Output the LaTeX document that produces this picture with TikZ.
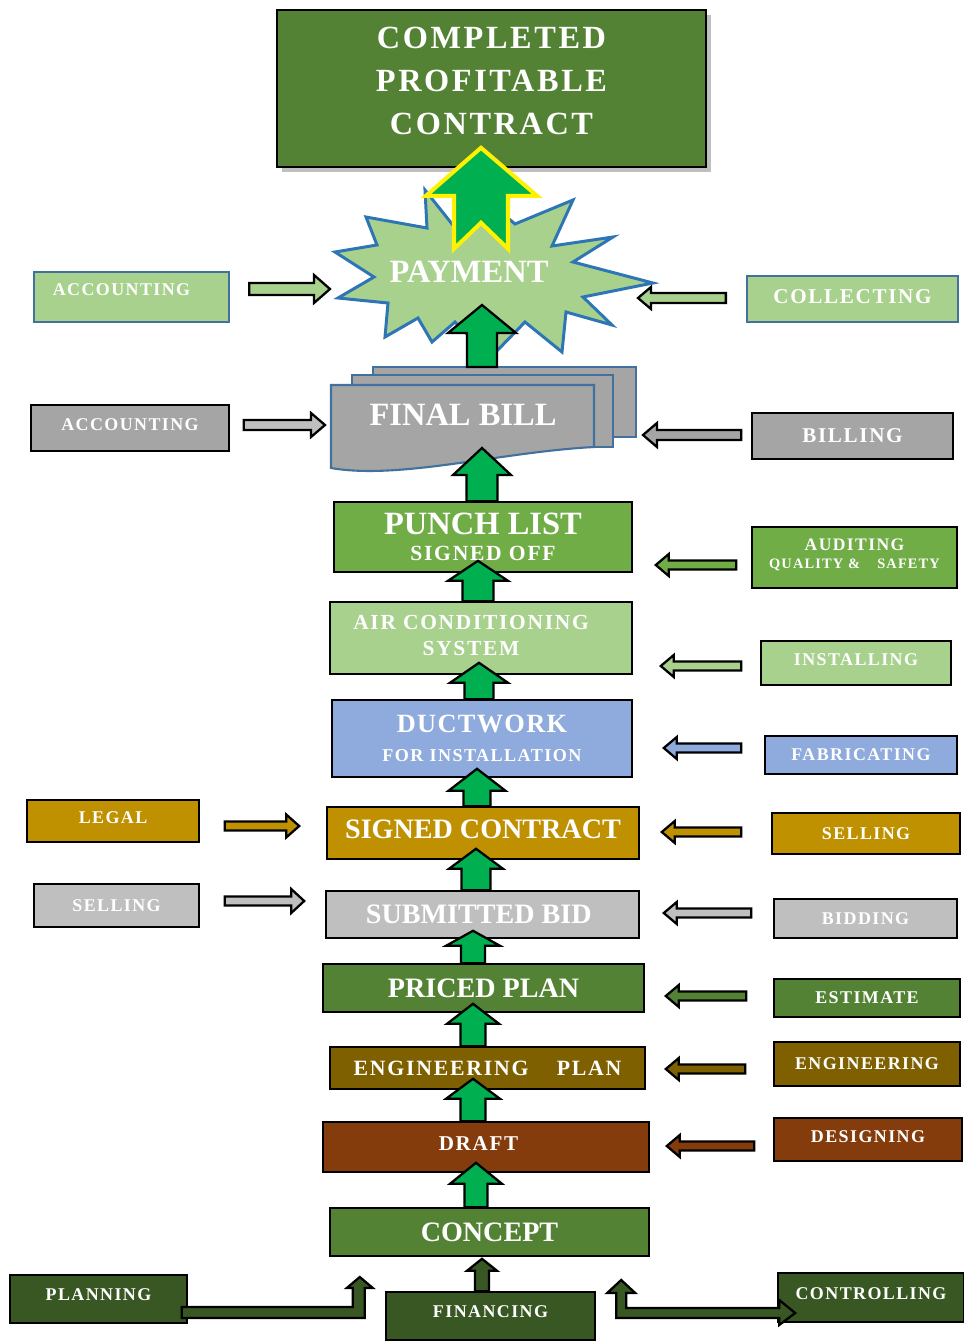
\documentclass[tikz,border=0pt]{standalone}
\usepackage{fontspec}
\setmainfont{Liberation Serif}
\newfontfamily\lsa[LetterSpace=8]{Liberation Serif}
\newfontfamily\lsb[LetterSpace=5]{Liberation Serif}
\usetikzlibrary{calc,shadows}

\definecolor{dkgreen}{HTML}{548235}
\definecolor{ltgreen}{HTML}{A9D18E}
\definecolor{mdgreen}{HTML}{70AD47}
\definecolor{arrgreen}{HTML}{00B050}
\definecolor{bordblue}{HTML}{41719C}
\definecolor{starblue}{HTML}{2E75B6}
\definecolor{midgray}{HTML}{A5A5A5}
\definecolor{ltgray}{HTML}{BFBFBF}
\definecolor{ductblue}{HTML}{8FAADC}
\definecolor{gold}{HTML}{BF9000}
\definecolor{olive}{HTML}{7F6000}
\definecolor{rust}{HTML}{843C0C}
\definecolor{forest}{HTML}{385723}

% block arrow: [style] {tail} {tip} {shaft half width} {head half width} {head length}
\newcommand{\blkarrow}[6][]{%
  \coordinate (ba) at (#2);
  \coordinate (bt) at (#3);
  \coordinate (bh) at ($(bt)!#6*0.02cm!(ba)$);
  \draw[blk,#1] ($(ba)!#4*0.02cm!90:(bh)$) -- ($(bh)!#4*0.02cm!90:(bt)$)
    -- ($(bh)!#5*0.02cm!90:(bt)$) -- (bt) -- ($(bh)!#5*0.02cm!-90:(bt)$)
    -- ($(bh)!#4*0.02cm!-90:(bt)$) -- ($(ba)!#4*0.02cm!-90:(bh)$) -- cycle;
}

\begin{document}
\begin{tikzpicture}[x=0.02cm, y=-0.02cm,
    pbox/.style={draw=black, line width=0.9pt, inner sep=0pt, text=white, align=center},
    bluebox/.style={draw=bordblue, line width=1.3pt},
    side/.style={pbox, font=\lsa\bfseries\fontsize{10.2}{12}\selectfont},
    main/.style={pbox, font=\bfseries\fontsize{16}{18}\selectfont},
    sz/.style 2 args={minimum width=#1*0.02cm, minimum height=#2*0.02cm},
    blk/.style={draw=black, line width=1.3pt, line join=miter, fill=arrgreen},
    sheet/.style={draw=bordblue, line width=1.2pt, fill=midgray}]
  \useasboundingbox (0,0) rectangle (964,1343);

  % Goal
  \node[pbox, fill=dkgreen, sz={429}{157}, text depth=9pt,
    drop shadow={shadow xshift=3pt, shadow yshift=-3pt, opacity=0.5},
    font=\lsa\bfseries\fontsize{18.4}{24.4}\selectfont] (top) at (491.5,88.5)
    {COMPLETED\\PROFITABLE\\CONTRACT};

  % Payment burst
  \draw[fill=ltgreen, draw=starblue, line width=1.7pt, line join=miter]
    (425,190) -- (452,224) -- (481,195) -- (515,224) -- (573,200) -- (552,246)
    -- (613,237) -- (573,262) -- (653,283) -- (583,297) -- (612,325) -- (566,312)
    -- (562,352) -- (525,322) -- (490,358) -- (455,322) -- (432,342) -- (418,318)
    -- (385,337) -- (388,303) -- (338,298) -- (374,277) -- (335,252) -- (377,245)
    -- (366,217) -- (427,228) -- cycle;
  \node[text=white, font=\bfseries\fontsize{18.5}{20}\selectfont] (pay) at (469,272) {PAYMENT};

  % Final bill stack
  \draw[sheet] (373,367) rectangle (636,437);
  \draw[sheet] (352,375) rectangle (613,447);
  \draw[sheet] (331,385) -- (594,385) -- (594,447) .. controls (500,452) and (400,480) .. (331,468) -- cycle;
  \node[text=white, font=\bfseries\fontsize{18.5}{20}\selectfont] (fb) at (463,415) {FINAL BILL};
  \coordinate (billtop) at (482,367);

  % Main steps
  \node[pbox, fill=mdgreen, sz={298}{70}, font=\lsa\bfseries\fontsize{12.3}{15}\selectfont] (punch) at (483,537)
    {{\rmfamily\fontsize{18.5}{20}\selectfont PUNCH LIST}\\SIGNED OFF};
  \node[pbox, fill=ltgreen, sz={302}{72}, text depth=3.4pt, font=\lsa\bfseries\fontsize{12.2}{14.7}\selectfont] (ac) at (481,638)
    {AIR CONDITIONING\hspace*{0.4cm}\\SYSTEM\hspace*{0.4cm}};
  \node[pbox, fill=ductblue, sz={300}{77}, font=\lsa\bfseries\fontsize{10.3}{16.8}\selectfont] (duct) at (482,738.5)
    {{\lsb\fontsize{15}{17}\selectfont DUCTWORK}\\FOR INSTALLATION};
  \node[main, fill=gold, sz={312}{52}, text depth=4.5pt] (signed) at (483,833) {SIGNED CONTRACT};
  \node[main, fill=ltgray, sz={313}{47}] (bid) at (482.5,914.5) {SUBMITTED BID\hspace*{0.15cm}};
  \node[main, fill=dkgreen, sz={321}{48}] (priced) at (483.5,988) {PRICED PLAN};
  \node[side, fill=olive, sz={315}{42}, font=\lsa\bfseries\fontsize{12.4}{14}\selectfont] (engplan) at (487.5,1068)
    {ENGINEERING\hspace{1.3em}PLAN};
  \node[side, fill=rust, sz={326}{50}, text depth=4.5pt, font=\lsa\bfseries\fontsize{12}{14}\selectfont] (draft) at (486,1147) {DRAFT\hspace*{0.3cm}};
  \node[main, fill=dkgreen, sz={319}{48}] (concept) at (489.5,1232) {CONCEPT};

  % Side activities
  \node[side, bluebox, fill=ltgreen, sz={195}{50}, text depth=8pt] (acc1) at (131.5,297) {ACCOUNTING\hspace*{0.4cm}};
  \node[side, bluebox, fill=ltgreen, sz={211}{46}, text depth=3.4pt, font=\lsa\bfseries\fontsize{12}{14}\selectfont] (coll) at (852.5,299) {COLLECTING};
  \node[side, fill=midgray, sz={198}{46}, text depth=3.4pt] (acc2) at (130,428) {ACCOUNTING};
  \node[side, fill=midgray, sz={201}{46}, font=\lsa\bfseries\fontsize{12}{14}\selectfont] (billing) at (852.5,436) {BILLING};
  \node[side, fill=mdgreen, sz={205}{61}, text depth=4pt, font=\lsa\bfseries\fontsize{8.2}{10.2}\selectfont] (audit) at (854.5,557.5)
    {{\fontsize{10}{12}\selectfont AUDITING}\\QUALITY \&\hspace{1.2em}SAFETY};
  \node[side, fill=ltgreen, sz={190}{44}, text depth=3.4pt] (install) at (856,663) {INSTALLING};
  \node[side, fill=ductblue, sz={192}{38}] (fabric) at (861,755) {FABRICATING};
  \node[side, fill=gold, sz={172}{42}, text depth=3.4pt] (legal) at (113,821) {LEGAL};
  \node[side, fill=gold, sz={188}{41}] (sell1) at (866,833.5) {SELLING};
  \node[side, fill=ltgray, sz={165}{43}] (sell2) at (116.5,905.5) {SELLING};
  \node[side, fill=ltgray, sz={183}{39}] (bidding) at (865.5,918.5) {BIDDING};
  \node[side, fill=dkgreen, sz={186}{38}] (estimate) at (867,998) {ESTIMATE};
  \node[side, fill=olive, sz={186}{44}] (eng) at (867,1064) {ENGINEERING};
  \node[side, fill=rust, sz={188}{43}, text depth=3pt] (design) at (868,1139.5) {DESIGNING};
  \node[side, fill=forest, sz={177}{48}, text depth=4.5pt] (plan) at (98.5,1299) {PLANNING};
  \node[side, fill=forest, sz={209}{48}, text depth=4.5pt] (fin) at (490.5,1316) {FINANCING};
  \node[side, fill=forest, sz={186}{49}, text depth=5pt] (ctrl) at (871,1297.5) {CONTROLLING};

  % Connection: up the chain
  \blkarrow{billtop}{$(pay)+(13,33)$}{15}{34}{28}
  \blkarrow{$(punch.north)+(-1,0)$}{$(fb)+(19,33)$}{15.5}{29}{27}
  \blkarrow{$(ac.north)+(-3,0)$}{$(punch.south)+(-5,-12)$}{15.5}{30}{20}
  \blkarrow{$(duct.north)+(-3,0)$}{$(ac.south)+(-2,-12)$}{14.5}{29}{20}
  \blkarrow{$(signed.north)+(-6,0)$}{$(duct.south)+(-5,-9)$}{13.5}{28.5}{22}
  \blkarrow{$(bid.north)+(-6.5,0)$}{$(signed.south)+(-7,-11)$}{14.5}{27}{20}
  \blkarrow{$(priced.north)+(-10.5,0)$}{$(bid.south)+(-9.5,-8)$}{12}{27}{15}
  \blkarrow{$(engplan.north)+(-14.5,0)$}{$(priced.south)+(-10.5,-9)$}{12.5}{26}{20}
  \blkarrow{$(draft.north)+(-13,0)$}{$(engplan.south)+(-14.5,-11)$}{12.5}{27}{20}
  \blkarrow{$(concept.north)+(-13.5,0)$}{$(draft.south)+(-10,-10)$}{11.5}{26}{21}
  \blkarrow[fill=forest]{$(fin.north)+(-8.5,0)$}{$(concept.south)+(-7.5,2)$}{7}{15}{12}

  % Connection: payment to goal
  \coordinate (yt) at ($(top.south)+(-10.5,-20)$);
  \draw[fill=arrgreen, draw=yellow, line width=2.3pt, line join=miter]
    (yt) -- ++(56,48) -- ++(-29,0) -- ++(0,53) -- ++(-27,-26) -- ++(-27,26)
    -- ++(0,-53) -- ++(-28,0) -- cycle;

  % Connection: side activities
  \blkarrow[fill=ltgreen]{$(acc1.east)+(19,-8)$}{$(pay)+(-139,17)$}{6}{14}{16}
  \blkarrow[fill=ltgreen]{$(coll.west)+(-20,-1)$}{$(pay)+(169,26)$}{5}{11}{13}
  \blkarrow[fill=ltgray]{$(acc2.east)+(14,-3)$}{$(fb)+(-138,10)$}{5}{12}{14}
  \blkarrow[fill=midgray]{$(billing.west)+(-10,-1)$}{$(fb)+(180,20)$}{5}{12}{14}
  \blkarrow[fill=mdgreen]{$(audit.west)+(-15,7.5)$}{$(punch.east)+(23,28)$}{4.5}{11}{13}
  \blkarrow[fill=ltgreen]{$(install.west)+(-19,3)$}{$(ac.east)+(28,28)$}{4.5}{11}{13}
  \blkarrow[fill=ductblue]{$(fabric.west)+(-23,-7)$}{$(duct.east)+(31,9.5)$}{4.5}{11}{13}
  \blkarrow[fill=gold]{$(legal.east)+(25,5)$}{$(signed.west)+(-27,-7)$}{4.5}{11.5}{13}
  \blkarrow[fill=gold]{$(sell1.west)+(-30,-1.5)$}{$(signed.east)+(22,-1)$}{4.5}{11}{13}
  \blkarrow[fill=ltgray]{$(sell2.east)+(25,-4.5)$}{$(bid.west)+(-21,-13.5)$}{4.5}{12}{13}
  \blkarrow[fill=ltgray]{$(bidding.west)+(-22,-5.5)$}{$(bid.east)+(24,-1.5)$}{4.5}{11}{13}
  \blkarrow[fill=dkgreen]{$(estimate.west)+(-27,-2)$}{$(priced.east)+(21,8)$}{4.5}{11}{13}
  \blkarrow[fill=olive]{$(eng.west)+(-28,5)$}{$(engplan.east)+(20,1)$}{4.5}{11}{13}
  \blkarrow[fill=rust]{$(design.west)+(-19,6.5)$}{$(draft.east)+(17,-1)$}{4.5}{11}{13}

  % Connection: bottom bent arrows
  \coordinate (pa) at ($(plan.east)+(-6,8)$);
  \draw[blk, fill=forest] (pa) -- ++(171,0) -- ++(0,-19) -- ++(-6,0) -- ++(13,-11) -- ++(13,11)
    -- ++(-8,0) -- ++(0,30) -- ++(-183,0) -- cycle;
  \coordinate (ca) at ($(ctrl.west)+(-161,-4.5)$);
  \draw[blk, fill=forest] (ca) -- ++(0,25) -- ++(163,0) -- ++(0,7) -- ++(16,-12) -- ++(-16,-13)
    -- ++(0,8) -- ++(-153,0) -- ++(0,-15) -- ++(9,0) -- ++(-14,-13) -- ++(-14,13) -- cycle;
\end{tikzpicture}
\end{document}
